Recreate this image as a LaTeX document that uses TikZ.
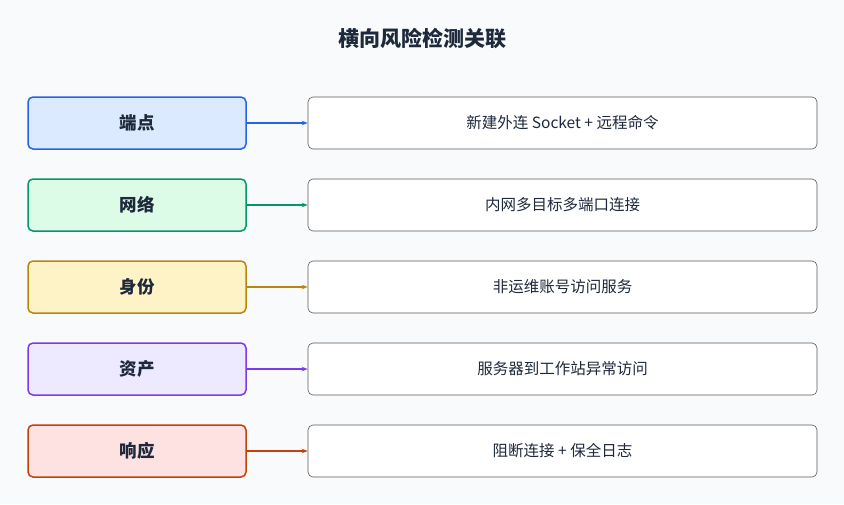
\documentclass[tikz,border=0pt]{standalone}
\usepackage{fontspec}
\setmainfont{Noto Sans CJK SC}
\usetikzlibrary{arrows.meta}
\definecolor{bg}{HTML}{F8FAFC}
\definecolor{ttl}{HTML}{1E293B}
\tikzset{x=1pt,y=-1pt,
 lab/.style={draw=#1,line width=1.5pt,rounded corners=5pt,minimum width=218pt,minimum height=52pt,font=\fontsize{17.5}{20}\selectfont\bfseries,text=ttl},
 desc/.style={draw=gray!70!black,line width=0.6pt,fill=white,rounded corners=5pt,minimum width=509pt,minimum height=52pt,font=\fontsize{15.5}{18}\selectfont,text=ttl},
 con/.style={draw=#1,line width=1.2pt,-{Stealth[length=6pt]}}}
\begin{document}
\begin{tikzpicture}
\fill[bg] (0,0) rectangle (844,504);
\useasboundingbox (0,0) rectangle (844,504);
\node[font=\fontsize{21}{24}\selectfont\bfseries,text=ttl] (t) at (422,39) {横向风险检测关联};
\foreach \i/\a/\b/\c/\f/\bd in {1/端点/新建外连 Socket + 远程命令/e/DBEAFE/2563EB,2/网络/内网多目标多端口连接/n/DCFCE7/059669,3/身份/非运维账号访问服务/id/FEF3C7/B8860B,4/资产/服务器到工作站异常访问/as/EDE9FE/7C3AED,5/响应/阻断连接 + 保全日志/r/FEE2E2/C2410C}{
 \definecolor{f\i}{HTML}{\f}\definecolor{b\i}{HTML}{\bd}
 \node[lab=b\i,fill=f\i] (l\c) at (137,123+82*\i-82) {\a};
 \node[desc] (d\c) at (562.5,123+82*\i-82) {\b};
 \draw[con=b\i] (l\c) -- (d\c);
}
\end{tikzpicture}
\end{document}
